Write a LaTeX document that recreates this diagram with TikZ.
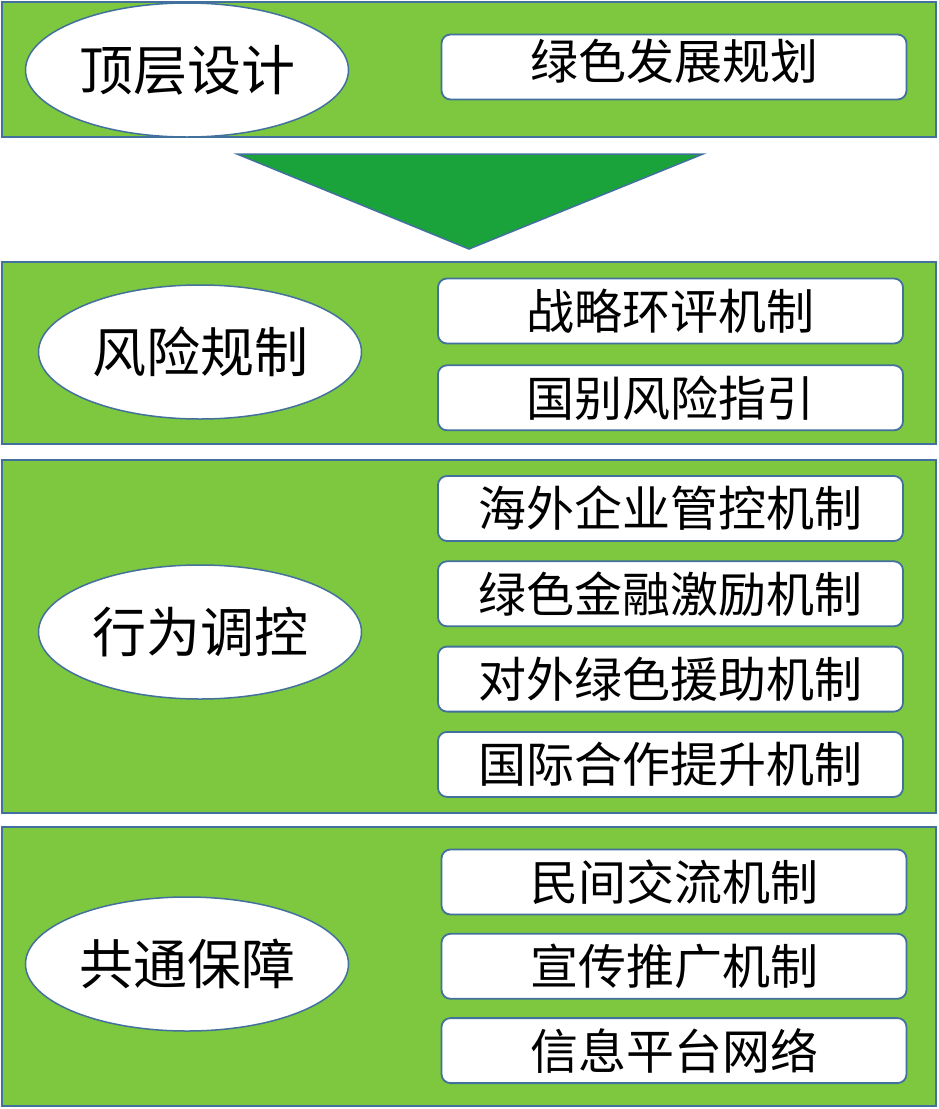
\documentclass[tikz,border=0pt]{standalone}
\usepackage{fontspec}
\setmainfont{Noto Sans CJK SC}
\usetikzlibrary{positioning,shapes.geometric}
\definecolor{bandgreen}{RGB}{125,200,62}
\definecolor{arrowgreen}{RGB}{26,163,58}
\definecolor{edgeblue}{RGB}{65,113,156}
\tikzset{
  band/.style={draw=edgeblue,line width=1.5pt,fill=bandgreen},
  level/.style={ellipse,draw=edgeblue,line width=1.5pt,fill=white,inner sep=0pt,
    minimum width=323pt,minimum height=134pt,font=\fontsize{54}{60}\selectfont},
  measure/.style={rectangle,rounded corners=9pt,draw=edgeblue,line width=1.8pt,fill=white,
    inner sep=0pt,minimum width=465pt,minimum height=65pt,font=\fontsize{48}{56}\selectfont},
}

\begin{document}
\begin{tikzpicture}[x=1pt,y=-1pt]
   \useasboundingbox (0,0) rectangle (939,1109);

   % bands
   \draw[band] (2,2) rectangle (936,137);
   \draw[band] (2,262) rectangle (936,444);
   \draw[band] (2,460) rectangle (936,813);
   \draw[band] (2,827) rectangle (936,1106);

   % arrow between first and second band
   \draw[fill=arrowgreen,draw=edgeblue,line width=1.5pt]
      (237,154) -- (703,154) -- (469,249) -- cycle;

   % top level design
   \node[level] (design) at (187,70) {顶层设计};
   \node[measure,text depth=16pt] (plan) at (674,67) {绿色发展规划};

   % risk regulation
   \node[level] (risk) at (200,352) {风险规制};
   \node[measure] (sea) at (670.5,311) {战略环评机制};
   \node[measure,below=20pt of sea] (guide) {国别风险指引};

   % behaviour control
   \node[level] (behave) at (200,632) {行为调控};
   \node[measure] (firm) at (670.5,508.5) {海外企业管控机制};
   \node[measure,below=18.5pt of firm] (finance) {绿色金融激励机制};
   \node[measure,below=18.5pt of finance] (aid) {对外绿色援助机制};
   \node[measure,below=18.5pt of aid] (coop) {国际合作提升机制};

   % common support
   \node[level] (support) at (187,964) {共通保障};
   \node[measure] (people) at (674,882) {民间交流机制};
   \node[measure,below=17.5pt of people] (promo) {宣传推广机制};
   \node[measure,below=17.5pt of promo] (info) {信息平台网络};
\end{tikzpicture}
\end{document}
